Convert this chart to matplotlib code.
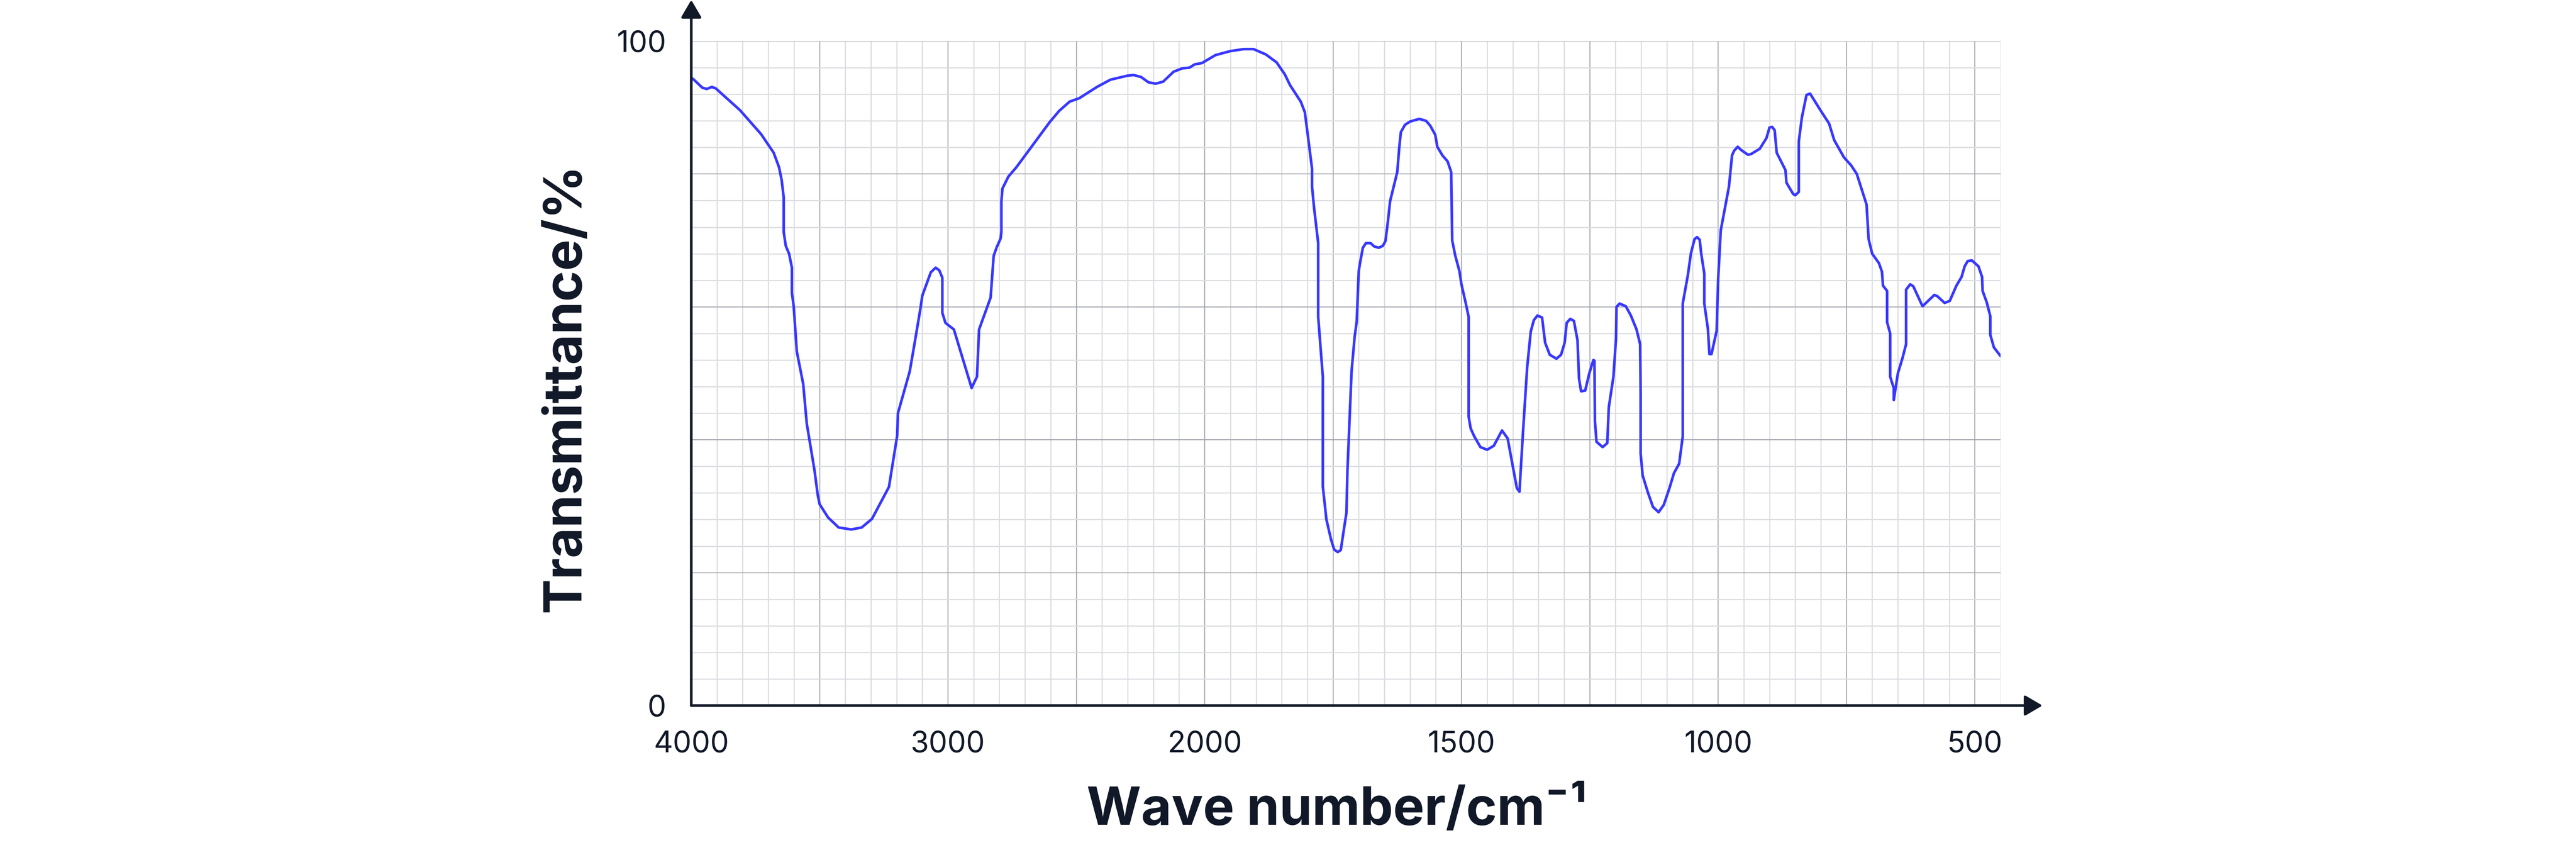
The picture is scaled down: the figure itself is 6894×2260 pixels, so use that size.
import numpy as np
import matplotlib
matplotlib.use("Agg")
import matplotlib.pyplot as plt

plt.rcParams['font.family'] = ['Inter', 'DejaVu Sans']

# spectrum (wave number in cm-1, transmittance in %)
wavenumber = [4000, 3990, 3957, 3940, 3920, 3905, 3810, 3728, 3679, 3658, 3648, 3640, 3640, 3632, 3619,
              3608, 3608, 3601, 3589, 3564, 3550, 3520, 3507, 3500, 3467, 3426, 3377, 3336, 3296, 3230,
              3198, 3195, 3149, 3132, 3108, 3100, 3067, 3048, 3034, 3022, 3022, 3010, 2977, 2908, 2887,
              2879, 2834, 2822, 2810, 2795, 2792, 2792, 2792, 2788, 2765, 2734, 2604, 2567, 2526, 2489,
              2420, 2367, 2301, 2277, 2248, 2219, 2191, 2162, 2121, 2088, 2060, 2039, 2011, 1979, 1950,
              1924, 1905, 1881, 1860, 1844, 1834, 1813, 1805, 1799, 1791, 1791, 1787, 1779, 1779, 1770,
              1770, 1763, 1754, 1748, 1741, 1735, 1728, 1724, 1722, 1714, 1708, 1704, 1700, 1698, 1692,
              1686, 1677, 1670, 1661, 1653, 1648, 1643, 1639, 1631, 1625, 1621, 1618, 1610, 1600, 1582,
              1569, 1561, 1551, 1547, 1537, 1527, 1520, 1518, 1512, 1504, 1500, 1492, 1486, 1486, 1482,
              1475, 1463, 1450, 1437, 1421, 1410, 1400, 1392, 1387, 1380, 1372, 1365, 1359, 1352, 1343,
              1337, 1328, 1315, 1306, 1299, 1295, 1288, 1281, 1274, 1271, 1267, 1259, 1251, 1243, 1241,
              1240, 1237, 1225, 1216, 1213, 1204, 1199, 1198, 1192, 1180, 1170, 1159, 1152, 1151, 1151,
              1147, 1137, 1127, 1116, 1106, 1095, 1086, 1076, 1069, 1069, 1069, 1059, 1053, 1046, 1041,
              1036, 1033, 1027, 1027, 1020, 1017, 1013, 1003, 1000, 995, 979, 973, 969, 962, 955,
              942, 936, 919, 906, 900, 895, 890, 886, 869, 867, 854, 850, 843, 843, 843,
              837, 828, 821, 800, 784, 774, 755, 741, 730, 711, 707, 700, 687, 681, 679,
              671, 671, 665, 665, 661, 658, 658, 650, 641, 634, 634, 626, 620, 602, 579,
              573, 559, 549, 536, 526, 520, 514, 506, 493, 486, 485, 477, 470, 470, 463, 450]
transmittance = [94.5, 94.2, 93.0, 92.8, 93.1, 92.9, 89.6, 86.0, 83.2, 81.0, 79.1, 76.5, 71.3, 69.2, 68.0,
                 65.9, 62.1, 60.1, 53.3, 48.4, 42.4, 35.4, 31.6, 30.3, 28.3, 26.8, 26.5, 26.8, 28.1, 32.9,
                 40.6, 44.0, 50.3, 54.1, 59.6, 61.7, 65.2, 65.9, 65.5, 64.4, 59.1, 57.6, 56.6, 47.8, 49.5,
                 56.6, 61.4, 67.7, 69.0, 70.3, 71.3, 73.7, 75.9, 77.8, 79.6, 81.0, 87.8, 89.5, 90.9, 91.4,
                 93.1, 94.2, 94.8, 94.9, 94.6, 93.8, 93.6, 93.9, 95.4, 95.9, 96.0, 96.5, 96.7, 97.9, 98.5,
                 98.8, 98.8, 98.0, 96.8, 95.0, 93.4, 90.9, 89.3, 85.7, 80.8, 78.1, 74.9, 69.6, 58.5, 49.5,
                 33.0, 28.0, 25.0, 23.5, 23.1, 23.4, 27.0, 29.0, 35.4, 50.3, 55.5, 57.8, 65.4, 66.4, 68.9,
                 69.6, 69.6, 69.1, 68.9, 69.2, 69.9, 73.0, 75.9, 78.4, 80.3, 84.1, 86.3, 87.4, 87.9, 88.3,
                 88.0, 87.3, 85.9, 84.1, 82.8, 81.9, 80.3, 70.0, 67.7, 65.4, 63.4, 60.7, 58.5, 43.5, 41.7,
                 40.5, 38.9, 38.5, 39.1, 41.4, 40.2, 36.0, 32.7, 32.2, 41.3, 50.9, 56.3, 58.0, 58.7, 58.4,
                 54.6, 52.8, 52.2, 52.8, 54.6, 57.6, 58.2, 57.9, 55.0, 49.2, 47.3, 47.4, 50.0, 52.0, 51.9,
                 42.8, 39.7, 38.9, 39.5, 44.9, 49.5, 55.2, 60.0, 60.5, 60.1, 58.7, 56.6, 54.4, 47.1, 37.9,
                 34.6, 32.1, 29.9, 29.1, 30.2, 32.7, 35.0, 36.4, 40.5, 52.8, 60.5, 64.8, 68.1, 70.2, 70.5,
                 70.1, 68.0, 65.0, 60.5, 56.7, 52.9, 52.9, 56.4, 64.2, 71.5, 78.1, 82.8, 83.5, 84.1, 83.6,
                 82.9, 83.0, 83.8, 85.4, 87.0, 87.1, 86.6, 83.2, 80.6, 78.7, 77.0, 76.8, 77.3, 82.8, 84.9,
                 88.5, 91.9, 92.1, 89.5, 87.6, 85.1, 82.5, 81.3, 80.0, 75.4, 70.2, 68.0, 66.6, 65.3, 63.2,
                 62.4, 57.7, 56.0, 49.5, 48.5, 47.8, 46.0, 50.0, 52.3, 54.4, 62.6, 63.4, 63.1, 60.1, 61.8,
                 61.6, 60.6, 60.9, 63.2, 64.5, 66.1, 66.9, 67.0, 66.1, 64.5, 62.4, 60.7, 58.6, 55.8, 53.9, 52.6]

x_major = [4000, 3500, 3000, 2500, 2000, 1750, 1500, 1250, 1000, 750, 500]
x_labels = ['4000', '', '3000', '', '2000', '', '1500', '', '1000', '', '500']
y_major = [0, 20, 40, 60, 80, 100]
y_labels = ['0', '', '', '', '', '100']

ink = '#111827'


# the scale is twice as wide below 2000 cm-1
def fwd(w):
    w = np.asarray(w, dtype=float)
    return np.where(w >= 2000, w, 2 * w - 2000)


def inv(u):
    u = np.asarray(u, dtype=float)
    return np.where(u >= 2000, u, (u + 2000) / 2)


fig = plt.figure(figsize=(6894 / 440, 2260 / 440), dpi=440)
ax = fig.add_axes([0.26835, 0.16504, 0.50827, 0.78628])
ax.set_xscale('function', functions=(fwd, inv))
ax.set_xlim(4000, 450)
ax.set_ylim(0, 100)

x_minor = [w for w in range(3900, 2000, -100) if w not in x_major] + \
          [w for w in range(1950, 449, -50) if w not in x_major]
y_minor = [v for v in range(0, 101, 4) if v not in y_major]

ax.set_xticks(x_major, x_labels)
ax.set_xticks(x_minor, minor=True)
ax.set_yticks(y_major, y_labels)
ax.set_yticks(y_minor, minor=True)
ax.grid(which='major', color='#a0a3aa', lw=0.4, zorder=0)
ax.grid(which='minor', color='#dcdde1', lw=0.5, zorder=0)
ax.set_axisbelow(True)
ax.tick_params(which='both', length=0)
ax.tick_params(axis='x', pad=11, labelsize=13, labelcolor=ink)
ax.tick_params(axis='y', pad=11, labelsize=13, labelcolor=ink)
for s in ax.spines.values():
    s.set_visible(False)

ax.plot(wavenumber, transmittance, color='#3838ff', lw=1.15, solid_joinstyle='round',
        solid_capstyle='round', zorder=3)

arrow = dict(arrowstyle='-|>,head_length=0.65,head_width=0.38', color=ink, lw=1.15,
             shrinkA=0, shrinkB=0, mutation_scale=10)
ax.annotate('', xy=(0, 1.062), xytext=(0, 0), xycoords='axes fraction', arrowprops=arrow, zorder=5)
ax.annotate('', xy=(1.032, 0), xytext=(0, 0), xycoords='axes fraction', arrowprops=arrow, zorder=5)

fig.text(0.2198, 0.5412, 'Transmittance/%', rotation=90, ha='center', va='center',
         fontsize=23, fontweight='bold', color=ink)
fig.text(0.5190, 0.0407, 'Wave number/cm⁻¹', ha='center', va='center',
         fontsize=23, fontweight='bold', color=ink)

fig.savefig('out.png', dpi=440)
